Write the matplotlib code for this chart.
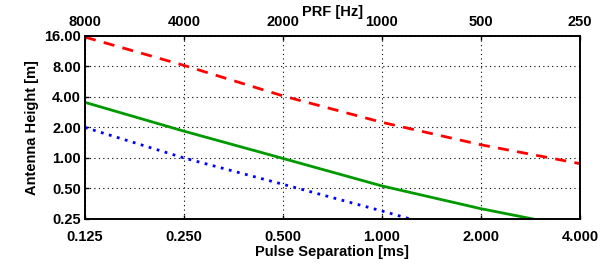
import numpy as np
import matplotlib
matplotlib.use("Agg")
import matplotlib.pyplot as plt

plt.rcParams['font.family'] = ['Liberation Sans', 'DejaVu Sans']
plt.rcParams['font.weight'] = 'bold'
plt.rcParams['font.size'] = 10.5

# tick values
sep_ticks = [0.125, 0.25, 0.5, 1.0, 2.0, 4.0]
prf_ticks = [8000, 4000, 2000, 1000, 500, 250]
height_ticks = [0.25, 0.5, 1.0, 2.0, 4.0, 8.0, 16.0]

# curves (pulse separation [ms] -> antenna height [m])
red_x = [0.125, 0.25, 0.5, 1.0, 2.0, 4.0]
red_y = [15.6, 8.2, 4.1, 2.25, 1.35, 0.88]

green_x = [0.125, 0.25, 0.5, 1.0, 2.0, 2.88]
green_y = [3.54, 1.84, 0.99, 0.53, 0.316, 0.25]

blue_x = [0.125, 0.25, 0.5, 1.0, 1.22]
blue_y = [2.0, 1.0, 0.55, 0.30, 0.25]

fig = plt.figure(figsize=(6.13, 2.66), dpi=100)
ax = fig.add_axes([0.1387, 0.1767, 0.8073, 0.688])

ax.plot(red_x, red_y, color='red', ls=(0, (4, 3)), lw=2)
ax.plot(green_x, green_y, color='#009900', ls='-', lw=2)
ax.plot(blue_x, blue_y, color='blue', ls=(0, (1, 2)), lw=2)

ax.set_xscale('log', base=2)
ax.set_yscale('log', base=2)
ax.set_xlim(sep_ticks[0], sep_ticks[-1])
ax.set_ylim(height_ticks[0], height_ticks[-1])

ax.set_xticks(sep_ticks)
ax.set_xticklabels(['%.3f' % v for v in sep_ticks])
ax.set_yticks(height_ticks)
ax.set_yticklabels(['%.2f' % v for v in height_ticks])
ax.minorticks_off()
ax.tick_params(axis='x', direction='in', length=3, width=1, pad=8)
ax.tick_params(axis='y', direction='in', length=3, width=1, pad=3)
ax.grid(True, color='black', ls=(0, (1, 3)), lw=0.8)

ax.set_xlabel('Pulse Separation [ms]', fontweight='bold', labelpad=1)
ax.set_ylabel('Antenna Height [m]', fontweight='bold', labelpad=4)

top = ax.twiny()
top.set_xscale('log', base=2)
top.set_xlim(ax.get_xlim())
top.set_xticks([1000.0 / p for p in prf_ticks])
top.set_xticklabels([str(p) for p in prf_ticks])
top.minorticks_off()
top.tick_params(direction='in', length=3, width=1, pad=5)
top.set_xlabel('PRF [Hz]', fontweight='bold', labelpad=-1)

for a in (ax, top):
    for s in a.spines.values():
        s.set_linewidth(1.2)

fig.savefig('out.png', dpi=100)
